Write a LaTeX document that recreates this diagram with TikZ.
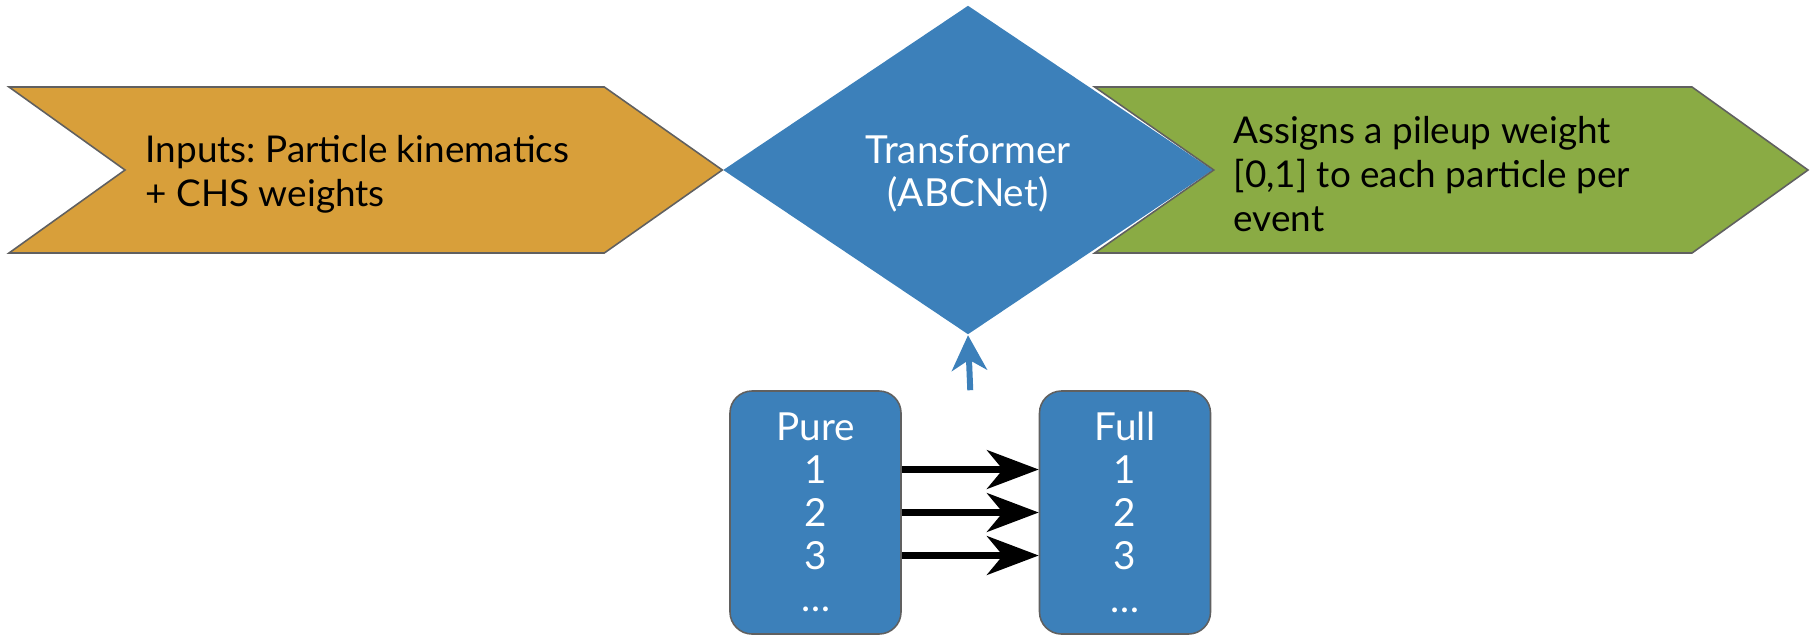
\documentclass[tikz,border=0pt]{standalone}
\usepackage{fontspec}
\setmainfont{Lato}
\usetikzlibrary{arrows.meta,positioning,shapes.geometric,calc}
\definecolor{amber}{HTML}{D89F3A}
\definecolor{steel}{HTML}{3C80BA}
\definecolor{olive}{HTML}{8AAB44}
\definecolor{rim}{HTML}{606060}
\frenchspacing
\tikzset{
  rimline/.style={draw=rim,line width=0.45pt,line join=miter},
  txt/.style={align=left,inner sep=0pt,font=\fontsize{10.5}{12.6}\selectfont},
  core/.style={diamond,fill=steel,inner sep=0pt,minimum width=49mm,minimum height=32.9mm,
    text=white,align=center,font=\fontsize{11}{12.2}\selectfont},
  listbox/.style={rounded corners=2.2mm,rimline,fill=steel,text=white,align=center,
    minimum width=17.1mm,minimum height=24.3mm,inner sep=0pt,font=\fontsize{11}{12.2}\selectfont},
  feed/.style={-{Stealth[length=10pt,width=10pt,inset=3pt]},line width=1.7pt,draw=steel},
  swap/.style={-{Stealth[length=14.7pt,width=11pt,inset=4.5pt]},line width=2pt,draw=black}
}

\begin{document}
\begin{tikzpicture}[x=0.1mm,y=-0.1mm]
  \useasboundingbox (0,0) rectangle (1815,637);
  % transformer in the middle, chevrons hang off its corners
  \node[core] (xfmr) at (968,170) {};
  \node[text=white,align=center,inner sep=0pt,font=\fontsize{11}{12.2}\selectfont]
    (xfmrlbl) at ($(xfmr.center)+(0,4)$) {Transformer\\(ABCNet)};
  \fill[amber,rimline] (xfmr.west) -- ++(-118,-83) -- (9,87) -- (125,170) -- (9,253)
    -- ($(xfmr.west)+(-118,83)$) -- cycle;
  \fill[olive,rimline] (xfmr.east) -- ++(-119,-83) -- (1692,87) -- (1808,170) -- (1692,253)
    -- ($(xfmr.east)+(-119,83)$) -- cycle;
  \node[txt,anchor=west] (inputs) at (145,174) {Inputs: Particle kinematics\\+ CHS weights};
  \node[txt,anchor=west] (weights) at (1233,174) {Assigns a pileup weight\\{[0,1]} to each particle per\\event};

  % pure and full event lists
  \node[listbox] (pure) at (815.5,512.5) {Pure\\1\\2\\3\\…};
  \node[listbox] (full) at (1125,512.5) {Full\\1\\2\\3\\…};
  \foreach \dy in {-43,0,43}
    \draw[swap] ($(pure.east)+(0,\dy)$) -- ($(full.west)+(0,\dy)$);

  \coordinate (src) at ($(pure.north)!0.5!(full.north)$);
  \draw[feed] (src) -- (xfmr.south);
\end{tikzpicture}
\end{document}
